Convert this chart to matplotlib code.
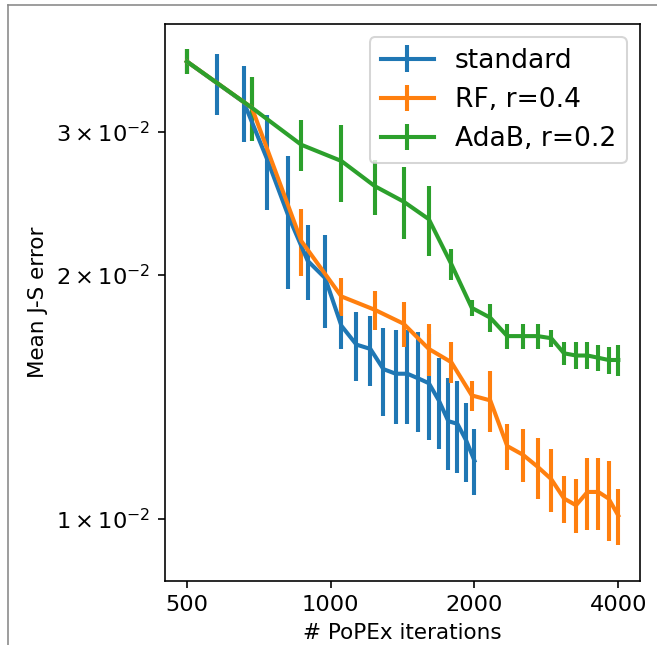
import numpy as np
import matplotlib
matplotlib.use("Agg")
import matplotlib.pyplot as plt
from matplotlib.lines import Line2D
from matplotlib.ticker import FixedLocator, NullLocator, FixedFormatter

# iterations
iters_std = [500, 579, 658, 737, 816, 895, 974, 1053, 1132, 1211,
             1289, 1368, 1447, 1526, 1605, 1684, 1763, 1842, 1921, 2000]
iters_long = [500, 684, 868, 1053, 1237, 1421, 1605, 1789, 1974, 2158,
              2342, 2526, 2711, 2895, 3079, 3263, 3447, 3632, 3816, 4000]

# mean J-S error and spread
err_std = [0.0366, 0.0344, 0.0326, 0.0277, 0.0236, 0.0208, 0.0198, 0.0173, 0.0164, 0.0162,
           0.0153, 0.0151, 0.0151, 0.0149, 0.0147, 0.0140, 0.0132, 0.0131, 0.0125, 0.0118]
sd_std = [0.0013, 0.0030, 0.0035, 0.0037, 0.0044, 0.0022, 0.0026, 0.0011, 0.0016, 0.0016,
          0.0019, 0.0020, 0.0020, 0.0021, 0.0022, 0.0018, 0.0017, 0.0017, 0.0014, 0.0011]

err_rf = [0.0366, 0.0321, 0.0220, 0.0188, 0.0181, 0.0174, 0.0162, 0.0156, 0.0142, 0.0140,
          0.0123, 0.0120, 0.0116, 0.0112, 0.0106, 0.0104, 0.0108, 0.0108, 0.0106, 0.0101]
sd_rf = [0.0013, 0.0029, 0.0021, 0.0010, 0.0010, 0.0011, 0.0012, 0.0009, 0.0006, 0.0012,
         0.0008, 0.0009, 0.0010, 0.0010, 0.0007, 0.0008, 0.0011, 0.0011, 0.0012, 0.0008]

err_ada = [0.0366, 0.0321, 0.0289, 0.0276, 0.0257, 0.0246, 0.0234, 0.0206, 0.0182, 0.0177,
           0.0168, 0.0168, 0.0168, 0.0167, 0.0160, 0.0159, 0.0159, 0.0158, 0.0157, 0.0157]
sd_ada = [0.0013, 0.0029, 0.0021, 0.0030, 0.0020, 0.0025, 0.0023, 0.0009, 0.0004, 0.0007,
          0.0006, 0.0006, 0.0006, 0.0004, 0.0005, 0.0006, 0.0006, 0.0006, 0.0006, 0.0007]

xticks = [500, 1000, 2000, 4000]
yticks = [0.01, 0.02, 0.03]
ytick_labels = [r'$\mathdefault{1\times10^{-2}}$', r'$\mathdefault{2\times10^{-2}}$',
                r'$\mathdefault{3\times10^{-2}}$']

fig = plt.figure(figsize=(657 / 147, 645 / 147), dpi=147)
ax = fig.add_axes([0.2511, 0.0992, 0.9741 - 0.2511, 0.9628 - 0.0992])

lw = 2.0
ax.errorbar(iters_std, err_std, yerr=sd_std, color='C0', lw=lw, elinewidth=lw, label='standard')
ax.errorbar(iters_long, err_rf, yerr=sd_rf, color='C1', lw=lw, elinewidth=lw, label='RF, r=0.4')
ax.errorbar(iters_long, err_ada, yerr=sd_ada, color='C2', lw=lw, elinewidth=lw, label='AdaB, r=0.2')

ax.set_xscale('log')
ax.set_yscale('log')
ax.set_xlim(450, 4440)
ax.set_ylim(0.00839, 0.0407)

ax.xaxis.set_major_locator(FixedLocator(xticks))
ax.xaxis.set_major_formatter(FixedFormatter([str(t) for t in xticks]))
ax.xaxis.set_minor_locator(NullLocator())
ax.yaxis.set_major_locator(FixedLocator(yticks))
ax.yaxis.set_major_formatter(FixedFormatter(ytick_labels))
ax.yaxis.set_minor_locator(NullLocator())
ax.tick_params(labelsize=11)

ax.set_xlabel('# PoPEx iterations', fontsize=10.5)
ax.set_ylabel('Mean J-S error', fontsize=10.5)
ax.legend(loc='upper right', fontsize=13)

# thin frame left over from the screenshot
fig.add_artist(Line2D([8 / 657, 1], [1 - 5 / 645, 1 - 5 / 645], transform=fig.transFigure,
                      color='#8a8a8a', lw=0.8))
fig.add_artist(Line2D([8 / 657, 8 / 657], [0, 1 - 5 / 645], transform=fig.transFigure,
                      color='#8a8a8a', lw=0.8))

fig.savefig('out.png', dpi=147)
